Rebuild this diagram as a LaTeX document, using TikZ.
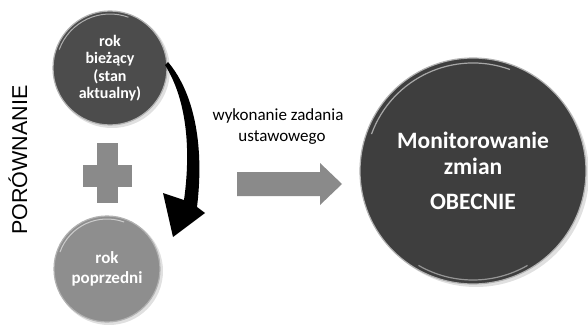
\documentclass[tikz,border=0pt]{standalone}
\usepackage{fontspec}
\setmainfont{Carlito}
\newfontfamily\arialf{Liberation Sans}
\definecolor{darkc}{HTML}{4C4C4C}
\definecolor{darkr}{HTML}{3E3E3E}
\definecolor{midc}{HTML}{8E8E8E}
\definecolor{grayarrow}{HTML}{8A8A8A}
\tikzset{
  ball/.style={circle, inner sep=0pt, draw=white!70!black, line width=1.2pt,
    text=white, align=center},
  shade/.style={fill=black, opacity=0.12},
}
\begin{document}
\begin{tikzpicture}[x=1pt,y=-1pt]
\useasboundingbox (0,0) rectangle (588,326);
% shadows
\fill[shade] (112,70) circle (58);
\fill[shade] (109,271) circle (54);
\fill[shade] (476,174) circle (113);
% circles
\node[ball, fill=darkc, minimum size=114pt,
  font=\bfseries\fontsize{16}{17.5}\selectfont] (cur) at (110,68)
  {rok\\bieżący\\(stan\\aktualny)};
\node[ball, fill=midc, minimum size=106pt,
  font=\bfseries\fontsize{17}{20}\selectfont] (prev) at (107,269)
  {rok\\poprzedni};
\node[ball, fill=darkr, minimum size=226pt,
  font=\bfseries\fontsize{23.5}{26}\selectfont] (mon) at (473,171)
  {Monitorowanie\\zmian\\[9pt]OBECNIE};
% rim highlights
\draw[white, opacity=0.55, line width=1pt] (cur.center) ++(200:54) arc (200:290:54);
\draw[white, opacity=0.55, line width=1pt] (prev.center) ++(200:50) arc (200:290:50);
\draw[white, opacity=0.55, line width=1.2pt] (mon.center) ++(200:108) arc (200:290:108);
\draw[white, opacity=0.45, line width=1.2pt] (mon.center) ++(60:109) arc (60:120:109);
% plus
\fill[grayarrow] (97,143) rectangle (118,203);
\fill[grayarrow] (83,165) rectangle (132,187);
% curved black arrow
\coordinate (tail) at (168,62);
\fill[black] (tail) .. controls (196,95) and (204,150) .. (197,207)
  -- (205,213) -- (173,237) -- (163,193) -- (184,200)
  .. controls (191,150) and (187,100) .. (165,65) -- cycle;
% gray arrow
\fill[grayarrow] (237,172) -- (320,172) -- (320,163) -- (342,184)
  -- (320,205) -- (320,196) -- (237,196) -- cycle;
% label
\node[align=center, font=\fontsize{17}{21}\selectfont, inner sep=0pt] (lab) at (278,127)
  {wykonanie zadania\\\hspace*{8pt}ustawowego};
% side text
\node[rotate=90, font=\arialf\fontsize{21.5}{24}\selectfont, inner sep=0pt] (por) at (18,160) {PORÓWNANIE};
\end{tikzpicture}
\end{document}
